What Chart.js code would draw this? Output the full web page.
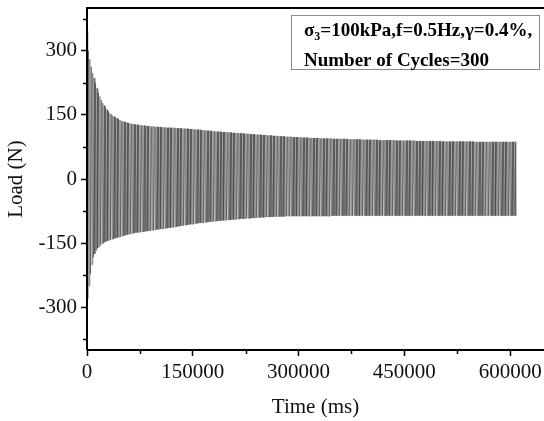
<!DOCTYPE html>
<html>
<head>
<meta charset="utf-8">
<script src="https://cdn.jsdelivr.net/npm/chart.js@4"></script>
<style>
html,body{margin:0;padding:0;background:#fff}
#wrap{width:544px;height:421px}
</style>
</head>
<body>
<div id="wrap"><canvas id="grafico" width="544" height="421"></canvas></div>
<script>

/* DADOS */

// one peak and one trough per loading cycle (N), 300 cycles
const peaks=[
345,300,280,262,248,236,224,212,202,193,185,178,172,167,162,158,154,151,148,146,
144,142,140,138,136,135,134,133,132,131,130,129,129,128,128,127,127,126,126,125,
125,125,124,124,124,123,123,123,122,122,122,122,121,121,121,121,120,120,120,120,
120,120,119,119,119,119,119,118,118,118,118,117,117,117,117,116,116,116,115,115,
115,114,114,114,113,113,113,112,112,112,111,111,111,111,110,110,110,110,109,109,
109,109,108,108,108,108,107,107,107,107,106,106,106,106,105,105,105,105,104,104,
104,104,103,103,103,103,102,102,102,102,101,101,101,101,100,100,100,100,100,99,
99,99,99,99,98,98,98,98,98,98,97,97,97,97,97,97,96,96,96,96,
96,96,96,95,95,95,95,95,95,95,95,95,94,94,94,94,94,94,94,94,
94,94,93,93,93,93,93,93,93,93,93,93,92,92,92,92,92,92,92,92,
92,92,92,91,91,91,91,91,91,91,91,91,91,91,91,91,90,90,90,90,
90,90,90,90,90,90,90,90,90,90,89,89,89,89,89,89,89,89,89,89,
89,89,89,89,89,89,89,89,88,88,88,88,88,88,88,88,88,88,88,88,
88,88,88,88,88,88,88,88,88,88,87,87,87,87,87,87,87,87,87,87,
87,87,87,87,87,87,87,87,87,87,87,87,87,87,87,87,87,87,87,87
]

const troughs=[
-280,-250,-222,-200,-183,-175,-168,-162,-158,-155,-152,-150,-148,-146,-145,-143,-142,-141,-140,-139,
-138,-137,-136,-135,-134,-133,-132,-131,-130,-129,-128,-128,-127,-126,-126,-125,-125,-124,-124,-123,
-123,-122,-122,-121,-121,-120,-120,-119,-119,-118,-118,-117,-117,-116,-116,-115,-115,-114,-114,-113,
-113,-112,-112,-111,-111,-110,-109,-109,-108,-108,-107,-107,-106,-106,-105,-105,-104,-104,-103,-103,
-103,-102,-102,-101,-101,-100,-100,-100,-99,-99,-99,-98,-98,-98,-97,-97,-97,-96,-96,-96,
-96,-95,-95,-95,-94,-94,-94,-93,-93,-93,-93,-92,-92,-92,-92,-91,-91,-91,-91,-90,
-90,-90,-90,-90,-89,-89,-89,-89,-89,-89,-88,-88,-88,-88,-88,-88,-88,-88,-87,-87,
-87,-87,-87,-87,-87,-87,-87,-87,-87,-87,-87,-87,-87,-87,-87,-87,-87,-87,-87,-87,
-87,-87,-87,-87,-87,-87,-87,-87,-87,-87,-86,-86,-86,-86,-86,-86,-86,-86,-86,-86,
-86,-86,-86,-86,-86,-86,-86,-86,-86,-86,-86,-86,-86,-86,-86,-86,-86,-86,-86,-86,
-86,-86,-86,-86,-86,-86,-86,-86,-86,-86,-86,-86,-86,-86,-86,-86,-86,-86,-86,-86,
-86,-86,-86,-86,-86,-86,-86,-86,-86,-86,-86,-86,-86,-86,-86,-86,-86,-86,-86,-86,
-86,-86,-86,-86,-86,-86,-86,-86,-86,-86,-86,-86,-86,-86,-86,-86,-86,-86,-86,-86,
-86,-86,-86,-86,-86,-86,-86,-86,-86,-86,-86,-86,-86,-86,-86,-86,-86,-86,-86,-86,
-86,-86,-86,-86,-86,-86,-86,-86,-86,-86,-86,-86,-86,-86,-86,-86,-86,-86,-86,-86
]

// cycle length in ms as it comes out on the time axis
const period=2030

const xTicks=[0,150000,300000,450000,600000]
const xMinor=[75000,225000,375000,525000]
const yTicks=[-300,-150,0,150,300]
const yMinor=[-375,-225,-75,75,225,375]

const legendLines=["=100kPa,f=0.5Hz,γ=0.4%,","Number of Cycles=300"]

/* SÉRIE */

const pontos=[]

peaks.forEach((p,i)=>{

pontos.push({x:i*period,y:p})
pontos.push({x:i*period+period/2,y:troughs[i]})

})

/* PLUGIN: MOLDURA, TICKS MENORES E LEGENDA */

const serif="'Liberation Serif','Times New Roman',serif"

const extras={
id:"extras",
afterDraw(chart){

const c=chart.ctx
const a=chart.chartArea
const sx=chart.scales.x
const sy=chart.scales.y

c.save()
c.strokeStyle="#000"
c.lineWidth=2

// frame
c.beginPath()
c.moveTo(a.left,a.bottom)
c.lineTo(a.left,a.top)
c.lineTo(a.right,a.top)
c.moveTo(a.left,a.bottom)
c.lineTo(a.right,a.bottom)
c.stroke()

// minor ticks
c.lineWidth=1.5
c.beginPath()
xMinor.forEach(v=>{
const px=Math.round(sx.getPixelForValue(v))+0.5
c.moveTo(px,a.bottom)
c.lineTo(px,a.bottom+4)
})
yMinor.forEach(v=>{
const py=Math.round(sy.getPixelForValue(v))+0.5
c.moveTo(a.left,py)
c.lineTo(a.left-4,py)
})
c.stroke()

// legend box
const bx=291,by=15,bw=248,bh=54
c.fillStyle="#fff"
c.fillRect(bx,by,bw,bh)
c.strokeStyle="#8a8a8a"
c.lineWidth=1
c.strokeRect(bx+0.5,by+0.5,bw,bh)

c.fillStyle="#000"
c.textBaseline="alphabetic"
let x=304
const y1=36
c.font="bold 19px "+serif
c.fillText("σ",x,y1)
x+=c.measureText("σ").width
c.font="bold 12px "+serif
c.fillText("3",x,y1+4)
x+=c.measureText("3").width
c.font="bold 19px "+serif
c.fillText(legendLines[0],x,y1)
c.fillText(legendLines[1],304,66)

c.restore()

}
}

/* GRÁFICO */

const ctx=document.getElementById("grafico")

new Chart(ctx,{

type:"line",

data:{
datasets:[{
data:pontos,
borderColor:"#333",
borderWidth:0.5,
pointRadius:0,
tension:0,
fill:false
}]
},

options:{
responsive:false,
animation:false,
events:[],
layout:{padding:{left:0,top:8,right:0,bottom:0}},
plugins:{
legend:{display:false},
tooltip:{enabled:false}
},
scales:{
x:{
type:"linear",
min:0,
max:648000,
afterBuildTicks:s=>{s.ticks=xTicks.map(v=>({value:v}))},
afterFit:s=>{s.height=71;s.paddingLeft=0;s.paddingRight=0},
border:{display:false},
grid:{drawOnChartArea:false,drawTicks:true,tickLength:6,tickWidth:1.5,tickColor:"#000"},
ticks:{color:"#111",font:{family:serif,size:21},padding:4,maxRotation:0,autoSkip:false,callback:v=>String(v)},
title:{display:true,text:"Time (ms)",color:"#111",font:{family:serif,size:21},padding:{top:0,bottom:1}}
},
y:{
min:-400,
max:400,
afterBuildTicks:s=>{s.ticks=yTicks.map(v=>({value:v}))},
afterFit:s=>{s.width=87;s.paddingTop=0;s.paddingBottom=0},
border:{display:false},
grid:{drawOnChartArea:false,drawTicks:true,tickLength:6,tickWidth:1.5,tickColor:"#000"},
ticks:{color:"#111",font:{family:serif,size:21},padding:4,autoSkip:false},
title:{display:true,text:"Load (N)",color:"#111",font:{family:serif,size:21},padding:{top:4,bottom:0}}
}
}
},

plugins:[extras]

})

</script>
</body>
</html>
